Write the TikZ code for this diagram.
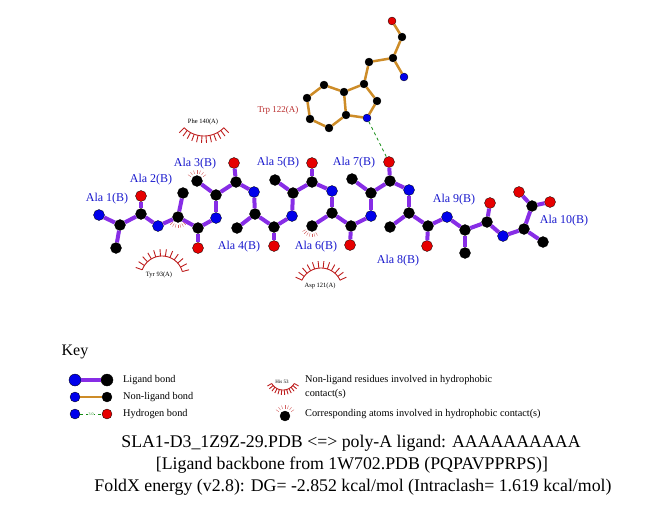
\documentclass[tikz,border=0pt]{standalone}
\usepackage{fontspec}
\setmainfont{Liberation Serif}
\definecolor{ligpurple}{RGB}{135,45,230}
\definecolor{nonligorange}{RGB}{205,140,40}
\definecolor{atomblue}{RGB}{0,0,235}
\definecolor{atomred}{RGB}{230,0,0}
\definecolor{labelblue}{RGB}{25,25,205}
\definecolor{hydrored}{RGB}{190,30,30}
\definecolor{trpred}{RGB}{185,45,45}
\definecolor{hbondgreen}{RGB}{20,140,20}

\newcommand{\hydroarc}[6]{%
  \draw[hydrored,line width=0.9pt] plot[domain=#4:#5,samples=30] ({#1+#3*cos(\x)},{#2+#3*sin(\x)});
  \foreach \k in {0,...,11}{
    \pgfmathsetmacro\ang{#4+(#5-#4)*\k/11}
    \draw[hydrored,line width=0.9pt] ({#1+#3*cos(\ang)},{#2+#3*sin(\ang)}) -- ({#1+(#3+#6)*cos(\ang)},{#2+(#3+#6)*sin(\ang)});
  }}
\newcommand{\hydroatom}[3]{%
  \foreach \k in {0,...,6}{
    \pgfmathsetmacro\ang{#2+(#3-#2)*\k/6}
    \draw[hydrored!70,line width=0.4pt] ([shift={(\ang:7.5)}]#1.center) -- ([shift={(\ang:11)}]#1.center);
  }}

\begin{document}
\begin{tikzpicture}[x=1pt,y=-1pt,
    lig/.style={circle,draw=black,line width=0.3pt,inner sep=0pt,minimum size=11pt,fill=#1},
    trp/.style={circle,draw=black,line width=0.3pt,inner sep=0pt,minimum size=8pt,fill=#1},
    ligbond/.style={ligpurple,line width=4pt},
    trpbond/.style={nonligorange,line width=2.5pt},
    hbond/.style={hbondgreen,dashed,line width=0.8pt},
    alalabel/.style={labelblue,font=\fontsize{12}{12}\selectfont},
    reslabel/.style={font=\fontsize{6.5}{6.5}\selectfont},
    keytext/.style={anchor=west,inner sep=0pt,font=\fontsize{10.3}{10.3}\selectfont},
    titletext/.style={font=\fontsize{17.8}{17.8}\selectfont}]
\useasboundingbox (0,0) rectangle (651,511);

\node[lig=atomblue] (n1) at (99,215) {};
\node[lig=black] (ca1) at (120,225) {};
\node[lig=black] (cb1) at (116,248) {};
\node[lig=black] (c1) at (141,214) {};
\node[lig=atomred] (o1) at (141,196) {};
\node[lig=atomblue] (n2) at (158,226) {};
\node[lig=black] (ca2) at (178,217) {};
\node[lig=black] (cb2) at (183,193) {};
\node[lig=black] (c2) at (198,228) {};
\node[lig=atomred] (o2) at (198,248) {};
\node[lig=atomblue] (n3) at (216,218) {};
\node[lig=black] (ca3) at (216,195) {};
\node[lig=black] (cb3) at (197,181) {};
\node[lig=black] (c3) at (236,182) {};
\node[lig=atomred] (o3) at (234,163) {};
\node[lig=atomblue] (n4) at (254,192) {};
\node[lig=black] (ca4) at (255,214) {};
\node[lig=black] (cb4) at (237,228) {};
\node[lig=black] (c4) at (274,227) {};
\node[lig=atomred] (o4) at (274,246) {};
\node[lig=atomblue] (n5) at (292,216) {};
\node[lig=black] (ca5) at (293,193) {};
\node[lig=black] (cb5) at (275,180) {};
\node[lig=black] (c5) at (312,182) {};
\node[lig=atomred] (o5) at (312,163) {};
\node[lig=atomblue] (n6) at (332,191) {};
\node[lig=black] (ca6) at (332,213) {};
\node[lig=black] (cb6) at (312,226) {};
\node[lig=black] (c6) at (351,226) {};
\node[lig=atomred] (o6) at (350,245) {};
\node[lig=atomblue] (n7) at (371,216) {};
\node[lig=black] (ca7) at (371,193) {};
\node[lig=black] (cb7) at (352,179) {};
\node[lig=black] (c7) at (390,181) {};
\node[lig=atomred] (o7) at (389,162) {};
\node[lig=atomblue] (n8) at (409,190) {};
\node[lig=black] (ca8) at (409,213) {};
\node[lig=black] (cb8) at (390,227) {};
\node[lig=black] (c8) at (428,226) {};
\node[lig=atomred] (o8) at (427,246) {};
\node[lig=atomblue] (n9) at (447,217) {};
\node[lig=black] (ca9) at (465,230) {};
\node[lig=black] (cb9) at (465,253) {};
\node[lig=black] (c9) at (487,222) {};
\node[lig=atomred] (o9) at (490,203) {};
\node[lig=atomblue] (n10) at (503,236) {};
\node[lig=black] (ca10) at (524,229) {};
\node[lig=black] (cb10) at (543,242) {};
\node[lig=black] (c10) at (532,206) {};
\node[lig=atomred] (o10) at (519,192) {};
\node[lig=atomred] (oxt10) at (550,202) {};

\foreach \i in {1,...,10}{
  \draw[ligbond] (n\i) -- (ca\i);
  \draw[ligbond] (ca\i) -- (cb\i);
  \draw[ligbond] (ca\i) -- (c\i);
  \draw[ligbond] (c\i) -- (o\i);
}
\foreach \i/\j in {1/2,2/3,3/4,4/5,5/6,6/7,7/8,8/9,9/10}
  \draw[ligbond] (c\i) -- (n\j);
\draw[ligbond] (c10) -- (oxt10);

\node[alalabel] at (107,199) {Ala 1(B)};
\node[alalabel] at (151,180) {Ala 2(B)};
\node[alalabel] at (195,164) {Ala 3(B)};
\node[alalabel] at (239,247) {Ala 4(B)};
\node[alalabel] at (278,163) {Ala 5(B)};
\node[alalabel] at (316,247) {Ala 6(B)};
\node[alalabel] at (354,163) {Ala 7(B)};
\node[alalabel] at (398,261) {Ala 8(B)};
\node[alalabel] at (454,200) {Ala 9(B)};
\node[alalabel] at (564,221) {Ala 10(B)};

\node[trp=atomred] (tO) at (392,21) {};
\node[trp=black] (tC) at (402,37) {};
\node[trp=black] (tCA) at (393,58) {};
\node[trp=atomblue] (tN) at (404,77) {};
\node[trp=black] (tCB) at (369,62) {};
\node[trp=black] (tCG) at (364,84) {};
\node[trp=black] (tCD1) at (377,101) {};
\node[trp=atomblue] (tNE1) at (367,118) {};
\node[trp=black] (tCE2) at (346,115) {};
\node[trp=black] (tCD2) at (344,92) {};
\node[trp=black] (tCE3) at (324,85) {};
\node[trp=black] (tCZ3) at (307,98) {};
\node[trp=black] (tCH2) at (310,119) {};
\node[trp=black] (tCZ2) at (329,128) {};
\draw[trpbond] (tO) -- (tC);
\draw[trpbond] (tC) -- (tCA);
\draw[trpbond] (tCA) -- (tN);
\draw[trpbond] (tCA) -- (tCB);
\draw[trpbond] (tCB) -- (tCG);
\draw[trpbond] (tCG) -- (tCD1);
\draw[trpbond] (tCD1) -- (tNE1);
\draw[trpbond] (tNE1) -- (tCE2);
\draw[trpbond] (tCE2) -- (tCD2);
\draw[trpbond] (tCD2) -- (tCG);
\draw[trpbond] (tCD2) -- (tCE3);
\draw[trpbond] (tCE3) -- (tCZ3);
\draw[trpbond] (tCZ3) -- (tCH2);
\draw[trpbond] (tCH2) -- (tCZ2);
\draw[trpbond] (tCZ2) -- (tCE2);
\node[trpred,font=\fontsize{9}{9}\selectfont] (trplabel) at (278,110) {Trp 122(A)};
\draw[hbond] (tNE1) -- (o7);

\node[reslabel] (phe) at (203,122) {Phe 140(A)};
\hydroarc{204}{108}{28}{45}{135}{7}
\node[reslabel] (tyr) at (159,275) {Tyr 93(A)};
\hydroarc{162}{277}{21}{200}{345}{7}
\node[reslabel] (asp) at (320,286) {Asp 121(A)};
\hydroarc{321}{289}{21}{205}{335}{7}
\hydroatom{cb3}{215}{325}
\hydroatom{ca2}{45}{135}
\hydroatom{cb6}{60}{150}

\node[font=\fontsize{16}{16}\selectfont] (key) at (75,352) {Key};
\node[lig=atomblue,minimum size=12pt] (kb1) at (75,380) {};
\node[lig=black,minimum size=12pt] (kk1) at (107,380) {};
\draw[ligbond] (kb1) -- (kk1);
\node[lig=atomblue,minimum size=10pt] (kb2) at (75,397) {};
\node[lig=black,minimum size=10pt] (kk2) at (107,397) {};
\draw[trpbond] (kb2) -- (kk2);
\node[lig=atomblue,minimum size=10pt] (kb3) at (75,414) {};
\node[lig=atomred,minimum size=10pt] (kr3) at (107,414) {};
\draw[hbond] (kb3) -- node[fill=white,inner sep=0.3pt,text=hbondgreen,font=\fontsize{4}{4}\selectfont]{3.0} (kr3);
\node[keytext] at (123,380) {Ligand bond};
\node[keytext] at (123,397) {Non-ligand bond};
\node[keytext] at (123,414) {Hydrogen bond};

\node[font=\fontsize{5}{5}\selectfont] (his) at (282,382) {His 53};
\hydroarc{283}{377}{13}{30}{150}{5}
\node[lig=black,minimum size=10pt] (katom) at (285,416) {};
\hydroatom{katom}{215}{325}
\node[keytext] at (305,380) {Non-ligand residues involved in hydrophobic};
\node[keytext] at (305,394) {contact(s)};
\node[keytext] at (305,414) {Corresponding atoms involved in hydrophobic contact(s)};

\node[titletext] at (351,443) {SLA1-D3\_1Z9Z-29.PDB <=> poly-A ligand: AAAAAAAAAA};
\node[titletext] at (352,465) {[Ligand backbone from 1W702.PDB (PQPAVPPRPS)]};
\node[titletext] at (353,487) {FoldX energy (v2.8): DG= -2.852 kcal/mol (Intraclash= 1.619 kcal/mol)};
\end{tikzpicture}
\end{document}
